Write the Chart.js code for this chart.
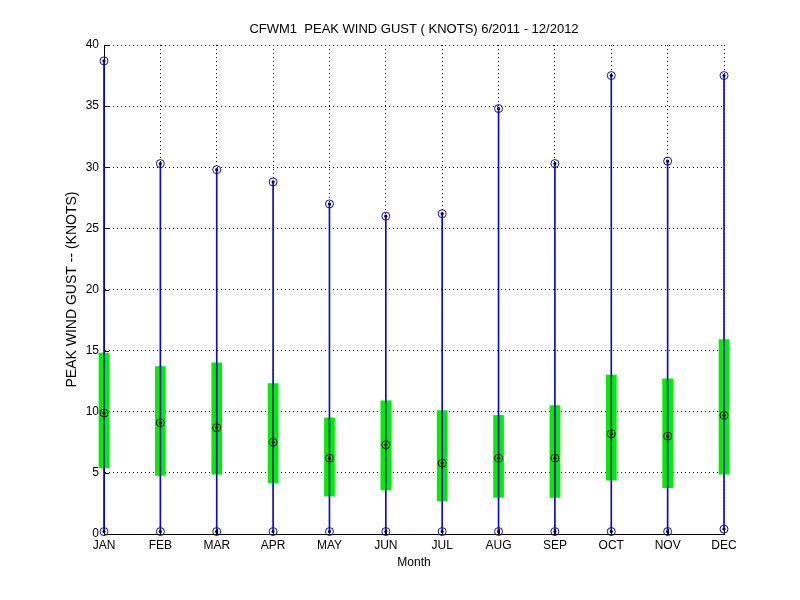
<!DOCTYPE html>
<html>
<head>
<meta charset="utf-8">
<script src="https://cdn.jsdelivr.net/npm/chart.js@4"></script>
<style>
  html, body { margin: 0; padding: 0; background: #fff; }
  #wrap { width: 800px; height: 600px; }
</style>
</head>
<body>
<div id="wrap"><canvas id="gustChart"></canvas></div>
<script>
const months = ['JAN', 'FEB', 'MAR', 'APR', 'MAY', 'JUN', 'JUL', 'AUG', 'SEP', 'OCT', 'NOV', 'DEC'];
const gustMax  = [38.7, 30.3, 29.8, 28.8, 27.0, 26.0, 26.2, 34.8, 30.3, 37.5, 30.5, 37.5];
const gustMin  = [0.2, 0.2, 0.2, 0.2, 0.2, 0.2, 0.2, 0.2, 0.2, 0.2, 0.2, 0.4];
const gustMean = [9.9, 9.1, 8.7, 7.5, 6.2, 7.3, 5.8, 6.2, 6.2, 8.2, 8.0, 9.7];
const boxLow   = [5.4, 4.8, 4.9, 4.2, 3.1, 3.6, 2.7, 3.0, 3.0, 4.4, 3.8, 4.9];
const boxHigh  = [14.8, 13.7, 14.0, 12.3, 9.5, 10.9, 10.1, 9.7, 10.5, 13.0, 12.7, 15.9];
const yTicks   = [0, 5, 10, 15, 20, 25, 30, 35, 40];

const FONT = { family: '"Liberation Sans", Arial, sans-serif', size: 12, weight: 'normal' };
const BLUE = '#0c0cc0';

Chart.defaults.font.family = FONT.family;
Chart.defaults.font.size = 12;
Chart.defaults.color = '#000';

const pts = (vals) => months.map((m, i) => ({ x: m, y: vals[i] }));

// axes ticks point inward like the original plot
const inwardTicks = {
    id: 'inwardTicks',
    beforeDatasetsDraw(chart) {
        const { ctx, chartArea, scales: { x, y } } = chart;
        ctx.save();
        ctx.strokeStyle = '#000';
        ctx.lineWidth = 1;
        ctx.beginPath();
        yTicks.forEach(v => {
            const py = Math.round(y.getPixelForValue(v)) + 0.5;
            ctx.moveTo(chartArea.left, py);
            ctx.lineTo(chartArea.left + 5, py);
        });
        months.forEach((m, i) => {
            const px = Math.round(x.getPixelForValue(i)) + 0.5;
            ctx.moveTo(px, chartArea.bottom);
            ctx.lineTo(px, chartArea.bottom - 5);
        });
        ctx.stroke();
        ctx.restore();
    }
};

const data = {
    labels: months,
    datasets: [
        {
            type: 'bar',
            label: 'Range',
            data: boxLow.map((v, i) => [v, boxHigh[i]]),
            backgroundColor: '#00ee00',
            barThickness: 10,
            grouped: false,
            clip: false,
            order: 5
        },
        {
            type: 'bar',
            label: 'Min - Max',
            data: gustMin.map((v, i) => [v, gustMax[i]]),
            backgroundColor: BLUE,
            barThickness: 1,
            grouped: false,
            clip: false,
            order: 4
        },
        {
            type: 'line',
            label: 'Mean',
            data: pts(gustMean),
            showLine: false,
            pointStyle: 'circle',
            pointRadius: 4,
            pointBorderWidth: 1,
            pointBorderColor: '#101010',
            pointBackgroundColor: 'rgba(0,0,0,0)',
            clip: false,
            order: 3
        },
        {
            type: 'line',
            label: 'Extremes',
            data: pts(gustMax).concat(pts(gustMin)),
            showLine: false,
            pointStyle: 'circle',
            pointRadius: 4,
            pointBorderWidth: 1,
            pointBorderColor: BLUE,
            pointBackgroundColor: 'rgba(0,0,0,0)',
            clip: false,
            order: 2
        },
        {
            type: 'line',
            label: 'Centres',
            data: pts(gustMax).concat(pts(gustMin), pts(gustMean)),
            showLine: false,
            pointStyle: 'circle',
            pointRadius: 1.6,
            pointBorderWidth: 0,
            pointBackgroundColor: '#000',
            clip: false,
            order: 1
        }
    ]
};

const config = {
    type: 'bar',
    data: data,
    options: {
        responsive: true,
        maintainAspectRatio: false,
        devicePixelRatio: 1,
        animation: false,
        layout: { padding: { left: 0, right: 76, top: 0, bottom: 0 } },
        scales: {
            x: {
                type: 'category',
                offset: false,
                grid: { offset: false, color: '#000', lineWidth: 1, drawTicks: false },
                border: { display: true, color: '#000', width: 1, dash: [1, 3] },
                ticks: { padding: 4, color: '#000', font: FONT, maxRotation: 0, autoSkip: false },
                title: {
                    display: true,
                    text: 'Month',
                    color: '#000',
                    font: FONT,
                    padding: { top: 0, bottom: 30 }
                },
                afterFit: (s) => { s.height = 66; }
            },
            xTop: {
                type: 'category',
                position: 'top',
                offset: false,
                grid: { display: false },
                border: { display: false },
                ticks: { display: false },
                title: {
                    display: true,
                    text: 'CFWM1  PEAK WIND GUST ( KNOTS) 6/2011 - 12/2012',
                    color: '#000',
                    font: { ...FONT, size: 13 },
                    padding: { top: 22, bottom: 0 }
                },
                afterFit: (s) => { s.height = 45; }
            },
            y: {
                min: 0,
                max: 40,
                afterBuildTicks: (s) => { s.ticks = yTicks.map(v => ({ value: v })); },
                grid: { color: '#000', lineWidth: 1, drawTicks: false },
                border: { display: true, color: '#000', width: 1, dash: [1, 3] },
                ticks: { padding: 5, color: '#000', font: FONT },
                title: {
                    display: true,
                    text: 'PEAK WIND GUST -- (KNOTS)',
                    color: '#000',
                    font: { ...FONT, size: 14 },
                    padding: { top: 64, bottom: 0 }
                },
                afterFit: (s) => { s.width = 104; }
            }
        },
        plugins: {
            legend: { display: false },
            tooltip: { enabled: false },
            title: { display: false }
        }
    },
    plugins: [inwardTicks]
};

const gustChart = new Chart(document.getElementById('gustChart'), config);
</script>
</body>
</html>
